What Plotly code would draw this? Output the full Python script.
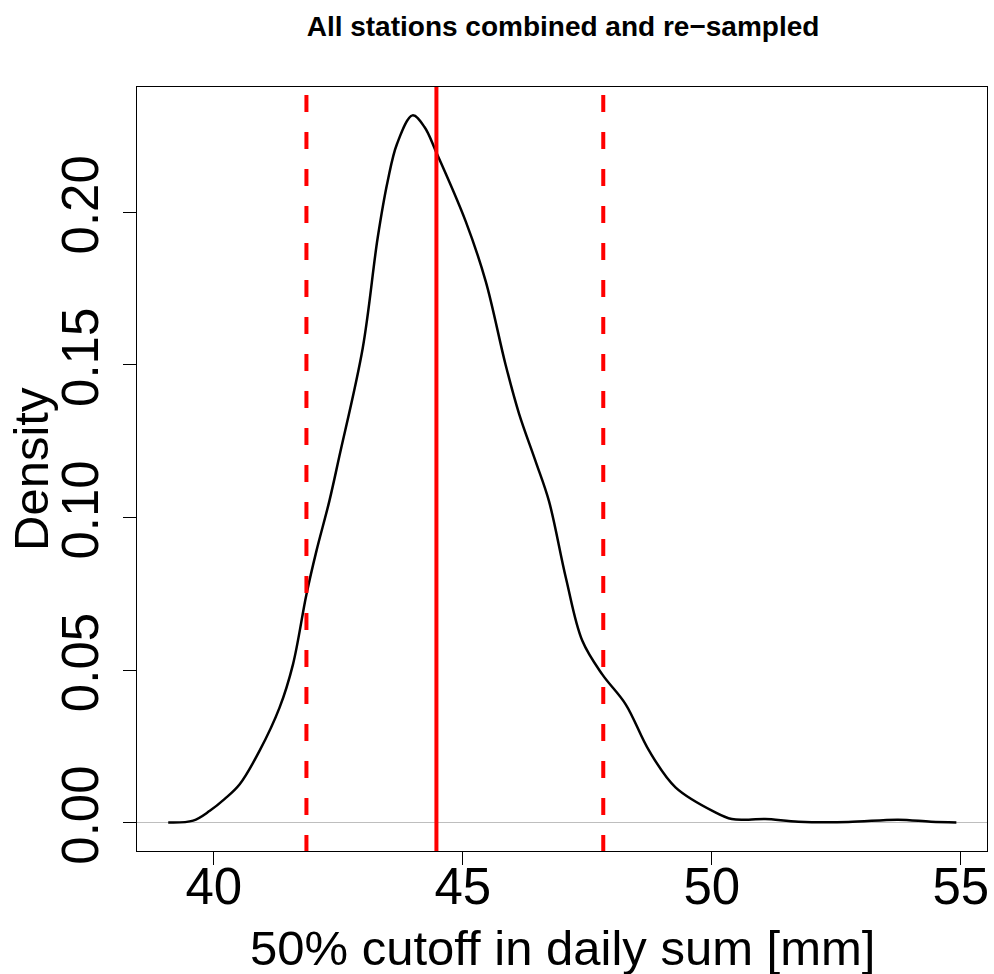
import plotly.graph_objects as go

# Density curve
cutoff_mm = [39.085, 39.585, 39.92, 40.22, 40.52, 40.92, 41.32, 41.59, 41.86, 42.06,
             42.32, 42.52, 42.99, 43.29, 43.49, 43.68, 43.99, 44.23, 44.46,
             45.06, 45.46, 45.86, 46.13, 46.46, 46.73, 47.07, 47.40, 47.80, 48.27,
             48.74, 49.27, 50.07, 50.40, 50.74, 51.07, 51.74, 52.74, 53.74, 54.40, 54.91]
density = [0.0001, 0.0007, 0.0039, 0.0078, 0.0126, 0.0236, 0.0377, 0.0519, 0.0748, 0.0890,
           0.1054, 0.1200, 0.1555, 0.1916, 0.2101, 0.2225, 0.2318, 0.2280, 0.2200,
           0.1970, 0.1774, 0.1500, 0.1340, 0.1185, 0.1054, 0.0802, 0.0596, 0.0486, 0.0388,
           0.0236, 0.0116, 0.0034, 0.0012, 0.0010, 0.0012, 0.0003, 0.0002, 0.0010, 0.0003, 0.0001]

median_value = 44.47
interval_bounds = [41.86, 47.82]

x_ticks = [40, 45, 50, 55]
y_ticks = [0.00, 0.05, 0.10, 0.15, 0.20]

title_text = "All stations combined and re\u2212sampled"
x_title = "50% cutoff in daily sum [mm]"
y_title = "Density"

FONT = "Liberation Sans, Arial, Helvetica, sans-serif"

fig = go.Figure()
fig.add_trace(go.Scatter(x=cutoff_mm, y=density, mode="lines",
                         line=dict(color="black", width=2.5, shape="spline", smoothing=1.0),
                         showlegend=False, hoverinfo="skip"))

fig.add_shape(type="line", xref="x", yref="y domain", x0=median_value, x1=median_value,
              y0=0, y1=1, line=dict(color="#ff0000", width=4), layer="above")
for b in interval_bounds:
    fig.add_shape(type="line", xref="x", yref="y domain", x0=b, x1=b,
                  y0=0.9895, y1=0, line=dict(color="#ff0000", width=4, dash="17px,20px"),
                  layer="above")

axis_common = dict(showline=True, linecolor="black", linewidth=1, mirror=True,
                   ticks="outside", ticklen=13, tickcolor="black", tickwidth=1,
                   showgrid=False, tickfont=dict(family=FONT, size=51, color="black"))

fig.update_xaxes(range=[38.458, 55.525], tickvals=x_ticks, zeroline=False,
                 ticklabelstandoff=-22, **axis_common)
fig.update_yaxes(range=[-0.00927, 0.2411], tickvals=y_ticks, tickformat=".2f",
                 tickangle=-90, zeroline=True, zerolinecolor="#bebebe", zerolinewidth=1,
                 ticklabelstandoff=5, **axis_common)

fig.add_annotation(text=x_title, xref="paper", yref="paper", x=0.5, y=-0.127,
                   xanchor="center", yanchor="middle", showarrow=False,
                   font=dict(family=FONT, size=49, color="black"))
fig.add_annotation(text=y_title, xref="paper", yref="paper", x=0, y=0.5, xshift=-106,
                   xanchor="center", yanchor="middle", textangle=-90, showarrow=False,
                   font=dict(family=FONT, size=49, color="black"))

fig.update_layout(
    width=994, height=974,
    margin=dict(l=137, r=5, t=87, b=123),
    paper_bgcolor="white", plot_bgcolor="white",
    title=dict(text="<b>" + title_text + "</b>", x=563 / 994, xanchor="center",
               y=1 - 26 / 974, yanchor="middle",
               font=dict(family=FONT, size=28, color="black")),
)

fig.write_html("out.html")
